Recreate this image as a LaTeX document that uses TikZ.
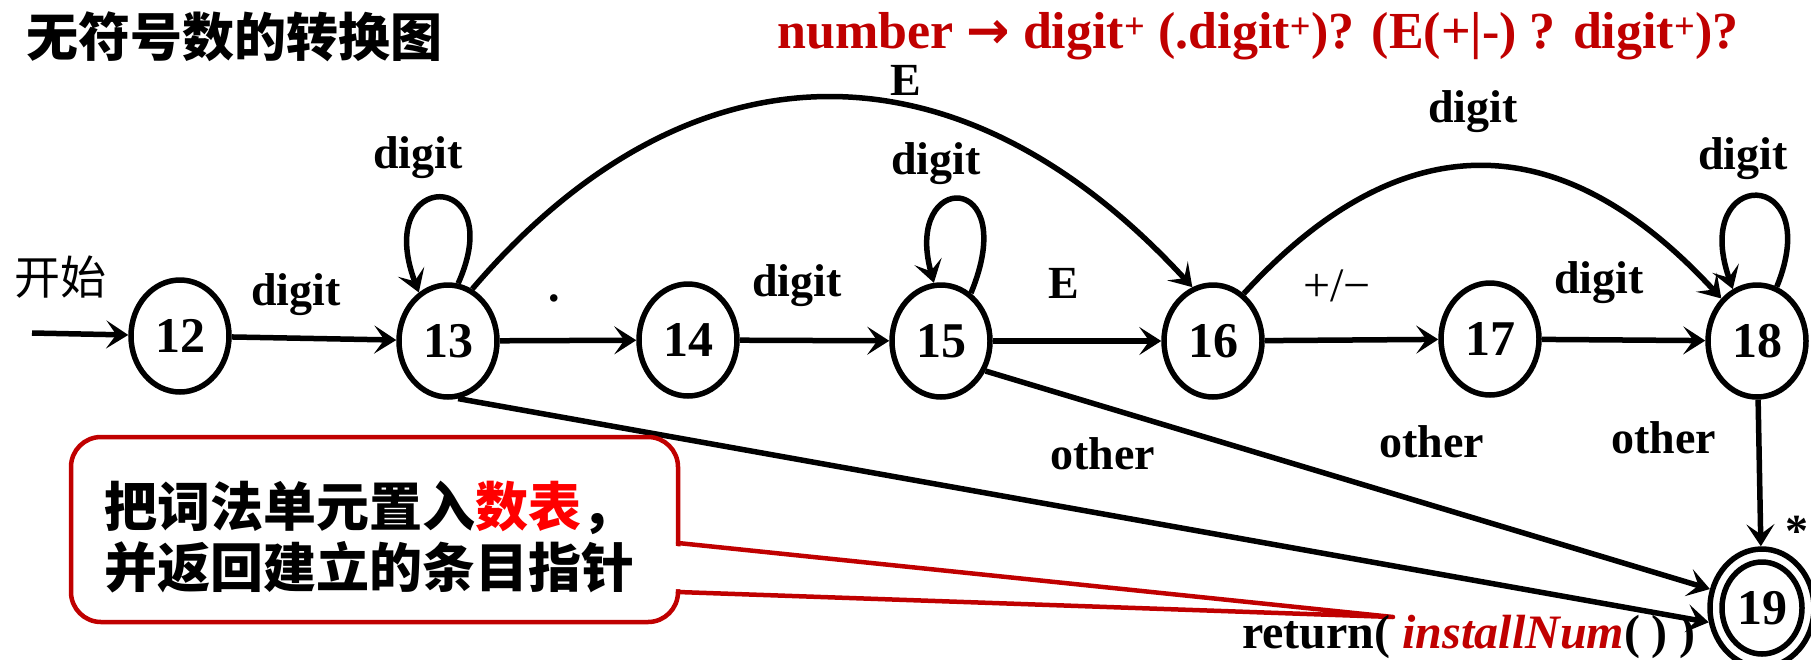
\documentclass[tikz,border=0pt]{standalone}
\usepackage{fontspec}
\setmainfont{Liberation Serif}
\newfontfamily\cjk{Noto Sans CJK SC}
\newfontfamily\djv{DejaVu Sans}
\usetikzlibrary{shapes.geometric,arrows.meta}
\definecolor{dred}{HTML}{C00000}
\newcommand\fs[1]{\fontsize{#1}{#1}\selectfont}
\begin{document}
\begin{tikzpicture}[x=1pt,y=-1pt,
 st/.style={ellipse,draw,line width=5.5pt,minimum width=98pt,minimum height=112pt,inner sep=0pt,font=\fs{50}\bfseries},
 lbl/.style={font=\fs{46}\bfseries,inner sep=0pt},
 arr/.style={line width=5.5pt,-{Stealth[length=22pt,width=28pt,inset=10pt]}},
 cjkt/.style={font=\cjk\bfseries\fs{53},inner sep=0pt},
]
\useasboundingbox (0,0) rectangle (1811,659);
\fill[white] (0,0) rectangle (1811,659);
% title and formula
\node[font=\cjk\bfseries\fs{52},inner sep=0pt] (title) at (234,37) {无符号数的转换图};
\node[text=dred,font=\fs{52}\bfseries,inner sep=0pt,anchor=base] (formula) at (1258,48) {number {\djv\bfseries →} digit\textsuperscript{+} (.digit\textsuperscript{+})? (E(+|-) ? digit\textsuperscript{+})?};
% states
\node[st] (n12) at (180,336) {12};
\node[st] (n13) at (448,341) {13};
\node[st] (n14) at (688,340) {14};
\node[st] (n15) at (941,341) {15};
\node[st] (n16) at (1213,341) {16};
\node[st] (n17) at (1490,339) {17};
\node[st] (n18) at (1757,341) {18};
\node[st,minimum width=104pt,minimum height=118pt] (n19) at (1762,608) {};
\node[st,minimum width=80pt,minimum height=92pt] (n19i) at (1762,608) {19};
% start
\coordinate (s) at (32,333);
\node[font=\cjk\fs{46},inner sep=0pt] (start) at (60,277) {开始};
\draw[arr] (s) -- (n12);
% transitions
\draw[arr] (n12) -- (n13);
\draw[arr] (n13) -- (n14);
\draw[arr] (n14) -- (n15);
\draw[arr] (n15) -- (n16);
\draw[arr] (n16) -- (n17);
\draw[arr] (n17) -- (n18);
\draw[arr] (n18) -- (n19);
\draw[arr] (n13.-80) -- (n19.195);
\draw[arr] (n15.-34) -- (n19.160);
\draw[arr] (n13.65) .. controls (690,34) and (960,34) .. (n16.111);
\draw[arr] (n16.57) .. controls (1400,123) and (1560,123) .. (n18.130);
\draw[arr] (n13.80) .. controls (510,168) and (372,168) .. (n13.121);
\draw[arr] (n15.58) .. controls (1022,170) and (903,170) .. (n15.97);
\draw[arr] (n18.70) .. controls (1826,166) and (1690,166) .. (n18.115);
% labels
\node[lbl] (a1) at (296,295) {digit};
\node[lbl] (a2) at (418,158) {digit};
\node[lbl] (a3) at (554,298) {.};
\node[lbl] (a4) at (797,286) {digit};
\node[lbl] (a5) at (936,164) {digit};
\node[lbl] (a6) at (1064,283) {E};
\node[lbl] (a7) at (906,80) {E};
\node[font=\fs{48},inner sep=0pt] (a8) at (1337,286) {+/−};
\node[lbl] (a9) at (1599,283) {digit};
\node[lbl] (a10) at (1473,112) {digit};
\node[lbl] (a11) at (1743,159) {digit};
\node[lbl] (a12) at (1103,454) {other};
\node[lbl] (a13) at (1432,442) {other};
\node[lbl] (a14) at (1664,438) {other};
\node[lbl] (a15) at (1797,531) {*};
% callout
\coordinate (tip) at (1393,617);
\draw[dred,line width=4.5pt,fill=white,rounded corners=30pt] (71,437) rectangle (678,622);
\fill[white] (675,546) -- (tip) -- (675,589) -- cycle;
\draw[dred,line width=4.5pt,line join=round,line cap=round] (678,543) -- (tip) -- (678,592);
\node[cjkt,anchor=west] (c1) at (104,508) {把词法单元置入\textcolor{red}{数表}，};
\node[cjkt,anchor=west] (c2) at (104,567) {并返回建立的条目指针};
\node[font=\fs{48}\bfseries,inner sep=0pt,anchor=base west] (ret) at (1242,648) {return( \textcolor{dred}{\textit{installNum}}( ) )};
\end{tikzpicture}
\end{document}
